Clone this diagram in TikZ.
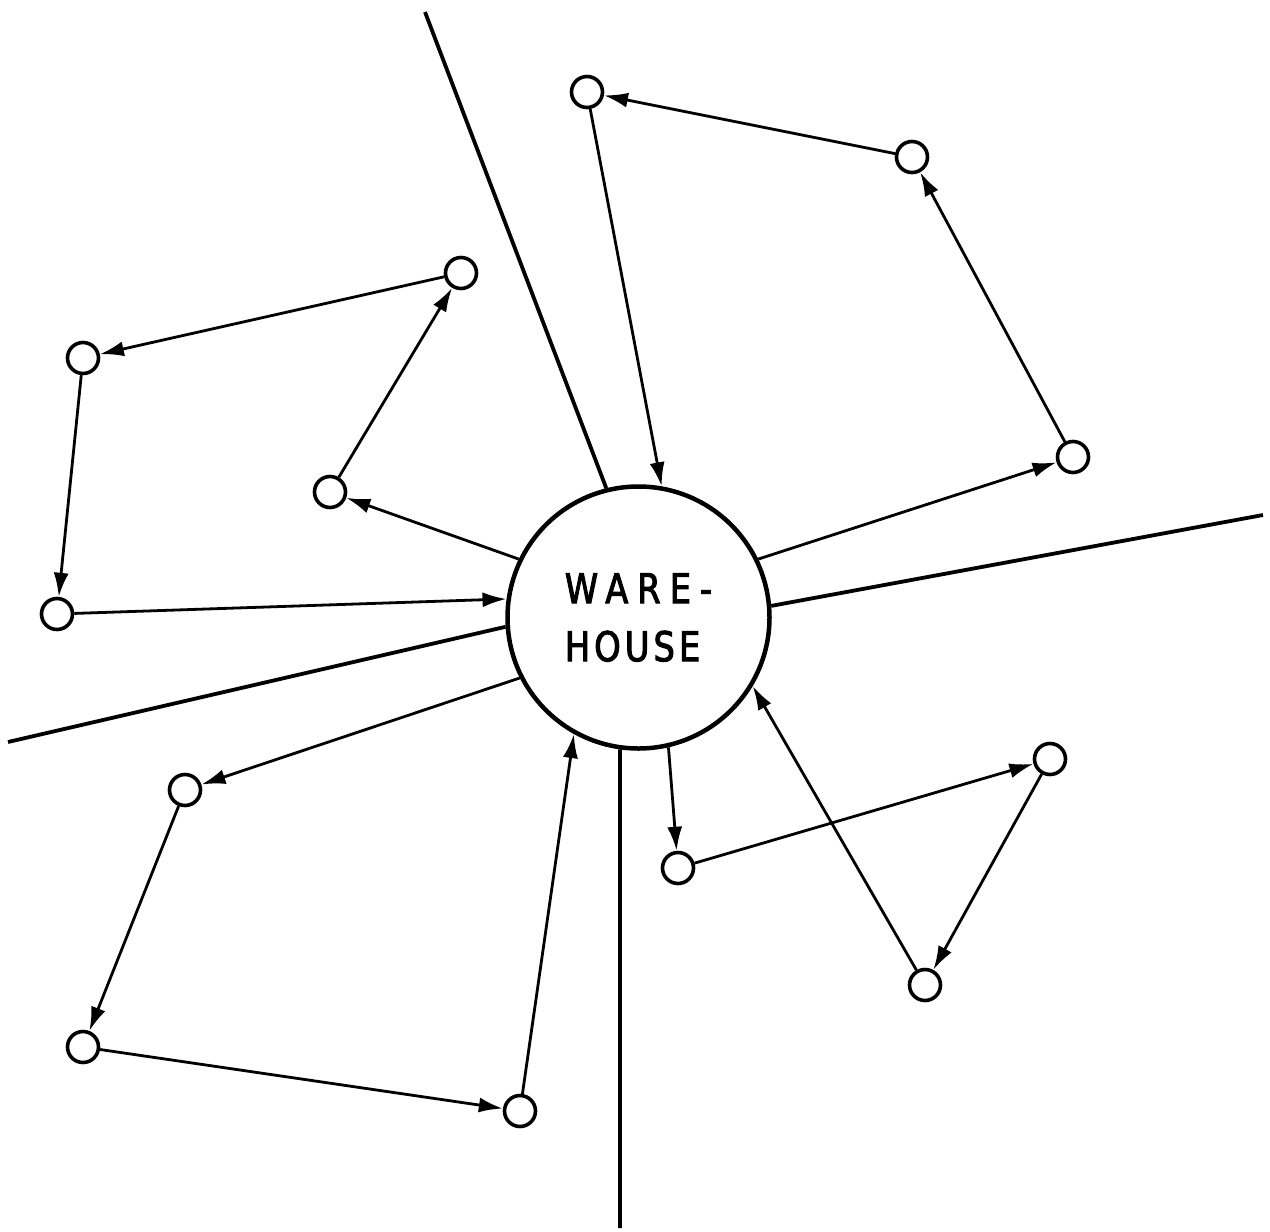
\documentclass[tikz,border=0pt]{standalone}
\usepackage{fontspec}
\newfontfamily\wfontA[FakeStretch=0.82,FakeBold=2.5,LetterSpace=22]{DejaVu Sans}
\newfontfamily\wfontB[FakeStretch=0.82,FakeBold=2.5,LetterSpace=10]{DejaVu Sans}
\usetikzlibrary{arrows.meta}
\begin{document}
\begin{tikzpicture}[x=1pt,y=-1pt,
  stop/.style={circle,draw,line width=3.6pt,minimum size=31pt,inner sep=0pt},
  depot/.style={circle,draw,line width=4.5pt,minimum size=262pt,inner sep=0pt,align=left,
    font={\fontsize{41}{58}\selectfont}},
  route/.style={line width=2.8pt,-{Latex[length=24pt,width=15pt]}},
  divider/.style={line width=3.8pt}]
\useasboundingbox[fill=white] (0,0) rectangle (1270,1232);

\node[depot] (wh) at (638.5,617.5) {{\wfontA WARE-}\\{\wfontB HOUSE}};

\node[stop] (A) at (587,92) {};
\node[stop] (B) at (912,157) {};
\node[stop] (C) at (1073,457) {};
\node[stop] (D) at (461,273) {};
\node[stop] (E) at (83,358) {};
\node[stop] (F) at (330,492) {};
\node[stop] (G) at (57,614) {};
\node[stop] (H) at (185,790) {};
\node[stop] (I) at (83,1047) {};
\node[stop] (J) at (520,1111) {};
\node[stop] (K) at (678,868) {};
\node[stop] (L) at (1050,759) {};
\node[stop] (M) at (925,985) {};

\coordinate (nEnd) at (425,12);
\coordinate (eEnd) at (1263,515);
\coordinate (wEnd) at (8,742);
\coordinate (sEnd) at (620,1228);
\draw[divider] (wh.104) -- (nEnd);
\draw[divider] (wh.5) -- (eEnd);
\draw[divider] (wh.184) -- (wEnd);
\draw[divider] (wh.262) -- (sEnd);

\draw[route] (wh.26) -- (C);
\draw[route] (C) -- (B);
\draw[route] (B) -- (A);
\draw[route] (A) -- (wh.80);

\draw[route] (wh.154) -- (F);
\draw[route] (F) -- (D);
\draw[route] (D) -- (E);
\draw[route] (E) -- (G);
\draw[route] (G) -- (wh.172);

\draw[route] (wh.207) -- (H);
\draw[route] (H) -- (I);
\draw[route] (I) -- (J);
\draw[route] (J) -- (wh.241);

\draw[route] (wh.283) -- (K);
\draw[route] (K) -- (L);
\draw[route] (L) -- (M);
\draw[route] (M) -- (wh.329);
\end{tikzpicture}
\end{document}
